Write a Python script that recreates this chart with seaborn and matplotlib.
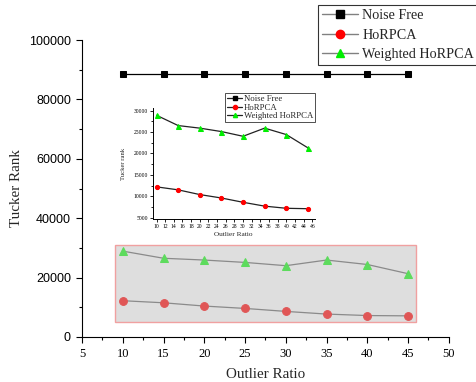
import matplotlib
matplotlib.use("Agg")
import matplotlib.pyplot as plt
import pandas as pd
import seaborn as sns
from matplotlib.lines import Line2D
from matplotlib.patches import Rectangle
from matplotlib.ticker import MultipleLocator

# ---- data -------------------------------------------------------------
outlier_ratio = [10, 15, 20, 25, 30, 35, 40, 45]
noise_free = [88500, 88500, 88500, 88500, 88500, 88500, 88500, 88500]
horpca = [12200, 11500, 10400, 9600, 8600, 7700, 7200, 7100]
weighted_horpca = [28900, 26500, 25900, 25100, 24000, 25900, 24400, 21300]
series_names = ["Noise Free", "HoRPCA", "Weighted HoRPCA"]

x_ticks = [5, 10, 15, 20, 25, 30, 35, 40, 45, 50]
y_ticks = [0, 20000, 40000, 60000, 80000, 100000]
inset_x_ticks = [10, 12, 14, 16, 18, 20, 22, 24, 26, 28, 30, 32, 34, 36, 38, 40, 42, 44, 46]
inset_y_ticks = [5000, 10000, 15000, 20000, 25000, 30000]

df = pd.DataFrame({
    "ratio": outlier_ratio * 3,
    "rank": noise_free + horpca + weighted_horpca,
    "method": [series_names[0]] * 8 + [series_names[1]] * 8 + [series_names[2]] * 8,
})

sns.set_theme(style="ticks")
plt.rcParams["font.family"] = ["Liberation Serif", "DejaVu Serif"]
plt.rcParams["axes.edgecolor"] = "black"
plt.rcParams["xtick.color"] = "black"
plt.rcParams["ytick.color"] = "black"

fig = plt.figure(figsize=(4.77, 3.82), dpi=100)

# ---- main axes --------------------------------------------------------
ax = fig.add_axes([0.172, 0.118, 0.769, 0.777])

main_style = {
    "Noise Free": dict(color="black", lw=0.9, marker="s", markersize=5,
                       markerfacecolor="black", markeredgecolor="black"),
    "HoRPCA": dict(color="#8a8a8a", lw=0.9, marker="o", markersize=5.6,
                   markerfacecolor="#e05656", markeredgecolor="#e05656"),
    "Weighted HoRPCA": dict(color="#8a8a8a", lw=0.9, marker="^", markersize=6.4,
                            markerfacecolor="#5ddb5d", markeredgecolor="#5ddb5d"),
}

# zoom region shown in the inset
ax.add_patch(Rectangle((9, 5000), 37, 26000, facecolor="#dedede",
                       edgecolor="#f0a0a0", lw=1.0, zorder=1))

for name in series_names:
    sub = df[df["method"] == name]
    sns.lineplot(data=sub, x="ratio", y="rank", ax=ax, legend=False,
                 zorder=3, **main_style[name])

ax.set_xlim(5, 50)
ax.set_ylim(0, 100000)
ax.set_xticks(x_ticks)
ax.set_yticks(y_ticks)
ax.xaxis.set_minor_locator(MultipleLocator(2.5))
ax.yaxis.set_minor_locator(MultipleLocator(10000))
ax.tick_params(which="major", direction="out", length=4, width=0.8,
               labelsize=9, pad=4)
ax.tick_params(which="minor", direction="out", length=2.2, width=0.8)
for lab in ax.get_yticklabels():
    lab.set_family(["Liberation Sans", "DejaVu Sans"])
ax.spines["top"].set_visible(False)
ax.spines["right"].set_visible(False)
ax.spines["left"].set_linewidth(0.8)
ax.spines["bottom"].set_linewidth(0.8)
ax.set_xlabel("Outlier Ratio", fontsize=10.8, labelpad=6)
ax.set_ylabel("Tucker Rank", fontsize=10.8, labelpad=4)

legend_markers = [
    ("s", "black", "Noise Free"),
    ("o", "#ff0000", "HoRPCA"),
    ("^", "#00ee00", "Weighted HoRPCA"),
]
main_handles = [Line2D([], [], color="#808080", lw=1.0, marker=m, markersize=6,
                       markerfacecolor=c, markeredgecolor=c, label=l)
                for m, c, l in legend_markers]
leg = fig.legend(handles=main_handles, loc="upper left",
                 bbox_to_anchor=(0.667, 0.987), bbox_transform=fig.transFigure,
                 fontsize=10.2, frameon=True, fancybox=False, handlelength=2.5,
                 borderaxespad=0, labelspacing=0.45, handletextpad=0.3,
                 borderpad=0.3)
leg.get_frame().set_edgecolor("black")
leg.get_frame().set_linewidth(0.8)

# ---- inset axes -------------------------------------------------------
axin = fig.add_axes([0.320, 0.4267, 0.340, 0.2906])
axin.patch.set_alpha(0)

inset_style = {
    "Noise Free": dict(color="#222222", lw=0.9, marker="s", markersize=2.8,
                       markerfacecolor="black", markeredgecolor="black"),
    "HoRPCA": dict(color="#222222", lw=0.9, marker="o", markersize=3,
                   markerfacecolor="#ff0000", markeredgecolor="#ff0000"),
    "Weighted HoRPCA": dict(color="#222222", lw=0.9, marker="^", markersize=3.6,
                            markerfacecolor="#00ee00", markeredgecolor="#00ee00"),
}
for name in series_names:
    sub = df[df["method"] == name]
    sns.lineplot(data=sub, x="ratio", y="rank", ax=axin, legend=False,
                 **inset_style[name])

axin.set_xlim(9.1, 46.6)
axin.set_ylim(4700, 30600)
axin.set_xticks(inset_x_ticks)
axin.set_yticks(inset_y_ticks)
axin.yaxis.set_minor_locator(MultipleLocator(2500))
axin.tick_params(which="major", direction="out", length=2, width=0.6,
                 labelsize=4.1, pad=1.5)
axin.tick_params(which="minor", direction="out", length=1.2, width=0.6)
axin.spines["top"].set_visible(False)
axin.spines["right"].set_visible(False)
axin.spines["left"].set_linewidth(0.7)
axin.spines["bottom"].set_linewidth(0.7)
axin.set_xlabel("Outlier Ratio", fontsize=5.2, labelpad=2.5)
axin.set_ylabel("Tucker rank", fontsize=4.8, labelpad=5)

inset_handles = [Line2D([], [], color="#222222", lw=0.9, marker=m, markersize=3,
                        markerfacecolor=c, markeredgecolor=c, label=l)
                 for m, c, l in legend_markers]
leg2 = fig.legend(handles=inset_handles, loc="upper right",
                  bbox_to_anchor=(0.661, 0.756), bbox_transform=fig.transFigure,
                  fontsize=6.3, frameon=True, fancybox=False, handlelength=1.8,
                  borderaxespad=0, labelspacing=0.05, handletextpad=0.2,
                  borderpad=0.2)
leg2.get_frame().set_edgecolor("black")
leg2.get_frame().set_linewidth(0.6)

fig.savefig("out.png", dpi=100)
